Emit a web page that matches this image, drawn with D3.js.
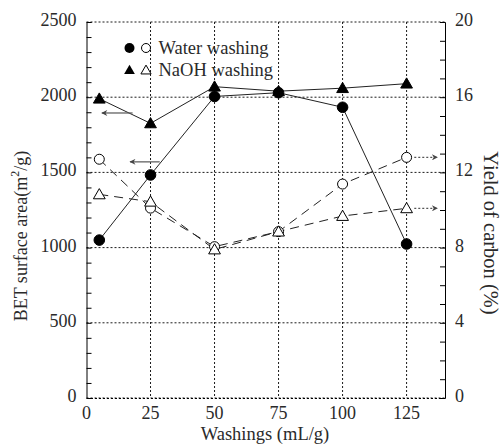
<!DOCTYPE html>
<html><head><meta charset="utf-8">
<script src="https://cdn.jsdelivr.net/npm/d3@7"></script>
<style>body{margin:0;background:#fff}svg{display:block}
svg text{font-family:"Liberation Serif","Times New Roman",Times,serif !important}</style>
</head><body>
<svg id="c" width="503" height="448"></svg>
<script>
const washings = [5, 25, 50, 75, 100, 125];
const bet_water = [1050, 1483, 2005, 2030, 1933, 1024];
const bet_naoh = [1990, 1826, 2070, 2040, 2060, 2090];
const yield_water = [12.7, 10.1, 8.05, 8.85, 11.38, 12.8];
const yield_naoh = [10.83, 10.44, 7.9, 8.85, 9.68, 10.09];
const xTicks = [0, 25, 50, 75, 100, 125];
const yLeftTicks = [0, 500, 1000, 1500, 2000, 2500];
const yRightTicks = [0, 4, 8, 12, 16, 20];
const legendLabels = ["Water washing", "NaOH washing"];

const svg = d3.select("#c");
const L = 86.5, R = 445, T = 22, B = 398;
const x = d3.scaleLinear().domain([0, 140]).range([L, R]);
const yL = d3.scaleLinear().domain([0, 2500]).range([B, T]);
const yR = d3.scaleLinear().domain([0, 20]).range([B, T]);
const font = "Liberation Serif";
const tc = "#2a2a2a";

const defs = svg.append("defs");
defs.append("marker").attr("id","ah").attr("viewBox","0 0 10 10").attr("refX",9).attr("refY",5)
  .attr("markerWidth",9).attr("markerHeight",6).attr("markerUnits","userSpaceOnUse").attr("orient","auto")
  .append("path").attr("d","M0,0 L10,5 L0,10 L3,5 Z").attr("fill","#444");

const grid = svg.append("g").attr("stroke","#000").attr("stroke-width",0.9).attr("stroke-dasharray","2,2");
xTicks.filter(d=>d>0).forEach(d=>grid.append("line").attr("x1",x(d)).attr("x2",x(d)).attr("y1",T).attr("y2",B));
yLeftTicks.forEach(d=>grid.append("line").attr("x1",L).attr("x2",R).attr("y1",yL(d)).attr("y2",yL(d)));

// axes
const axL = svg.append("g").attr("transform",`translate(${L},0)`)
  .call(d3.axisLeft(yL).tickValues(d3.range(0,2501,100)).tickSize(-5).tickFormat(""));
const axR = svg.append("g").attr("transform",`translate(${R},0)`)
  .call(d3.axisRight(yR).tickValues(d3.range(0,21,1)).tickSize(-5).tickFormat(""));
const axB = svg.append("g").attr("transform",`translate(0,${B})`)
  .call(d3.axisBottom(x).tickValues(xTicks).tickSize(0).tickFormat(""));
[axL,axR,axB].forEach(a=>{a.selectAll("path").attr("stroke","#000").attr("stroke-width",1);a.selectAll("line").attr("stroke","#000");});
axB.select("path").attr("stroke-dasharray","2,2");

svg.append("g").selectAll("text").data(xTicks).join("text")
  .attr("x",d=>x(d)).attr("y",419).attr("text-anchor","middle")
  .attr("font-family",font).attr("font-size",18).attr("fill",tc).text(d=>d);
svg.append("g").selectAll("text").data(yLeftTicks).join("text")
  .attr("x",L-10).attr("y",d=>yL(d)+4).attr("text-anchor","end")
  .attr("font-family",font).attr("font-size",18).attr("fill",tc).text(d=>d);
svg.append("g").selectAll("text").data(yRightTicks).join("text")
  .attr("x",R+10).attr("y",d=>yR(d)+4).attr("text-anchor","start")
  .attr("font-family",font).attr("font-size",18).attr("fill",tc).text(d=>d);

// labels
svg.append("text").attr("x",265).attr("y",440).attr("text-anchor","middle")
  .attr("font-family",font).attr("font-size",18.5).attr("fill",tc).text("Washings (mL/g)");
const yl = svg.append("text").attr("transform","translate(27,236) rotate(-90)").attr("text-anchor","middle")
  .attr("font-family",font).attr("font-size",18).attr("fill",tc);
yl.append("tspan").text("BET surface area(m");
yl.append("tspan").attr("dy",-8).attr("font-size",12).text("2");
yl.append("tspan").attr("dy",8).text("/g)");
svg.append("text").attr("transform","translate(484,233) rotate(90)").attr("text-anchor","middle")
  .attr("font-family",font).attr("font-size",20.5).attr("fill",tc).text("Yield of carbon (%)");

// lines
const lineL = d3.line().x((d,i)=>x(washings[i])).y(d=>yL(d));
const lineR = d3.line().x((d,i)=>x(washings[i])).y(d=>yR(d));
svg.append("path").attr("d",lineL(bet_water)).attr("fill","none").attr("stroke","#222").attr("stroke-width",1);
svg.append("path").attr("d",lineL(bet_naoh)).attr("fill","none").attr("stroke","#222").attr("stroke-width",1);
svg.append("path").attr("d",lineR(yield_water)).attr("fill","none").attr("stroke","#222").attr("stroke-width",1).attr("stroke-dasharray","9,6");
svg.append("path").attr("d",lineR(yield_naoh)).attr("fill","none").attr("stroke","#222").attr("stroke-width",1).attr("stroke-dasharray","9,6");

// arrows
const arrows = svg.append("g").attr("stroke","#555").attr("stroke-width",1.2).attr("fill","none");
arrows.append("line").attr("x1",x(18)).attr("x2",x(6)).attr("y1",yL(1895)).attr("y2",yL(1895)).attr("marker-end","url(#ah)");
arrows.append("line").attr("x1",x(28.6)).attr("x2",x(17)).attr("y1",yL(1570)).attr("y2",yL(1570)).attr("marker-end","url(#ah)");
arrows.append("line").attr("x1",x(128)).attr("x2",x(137)).attr("y1",yR(yield_water[5])).attr("y2",yR(yield_water[5])).attr("stroke-dasharray","2,2").attr("marker-end","url(#ah)");
arrows.append("line").attr("x1",x(128)).attr("x2",x(137)).attr("y1",yR(yield_naoh[5])).attr("y2",yR(yield_naoh[5])).attr("stroke-dasharray","2,2").attr("marker-end","url(#ah)");

// markers
const tri = d3.symbol().type(d3.symbolTriangle).size(60);
function circles(data, sc, filled){
  svg.append("g").selectAll("circle").data(data).join("circle")
   .attr("cx",(d,i)=>x(washings[i])).attr("cy",d=>sc(d)).attr("r",filled?5.3:5)
   .attr("fill",filled?"#000":"#fff").attr("stroke","#000").attr("stroke-width",1);
}
function tris(data, sc, filled){
  svg.append("g").selectAll("path").data(data).join("path")
   .attr("transform",(d,i)=>`translate(${x(washings[i])},${sc(d)+1})`).attr("d",tri)
   .attr("fill",filled?"#000":"#fff").attr("stroke","#000").attr("stroke-width",1);
}
circles(yield_water, yR, false);
tris(yield_naoh, yR, false);
circles(bet_water, yL, true);
tris(bet_naoh, yL, true);

// legend
const lg = svg.append("g");
lg.append("circle").attr("cx",129.5).attr("cy",48).attr("r",5).attr("fill","#000");
lg.append("circle").attr("cx",146).attr("cy",48).attr("r",4.5).attr("fill","#fff").attr("stroke","#000");
lg.append("path").attr("transform","translate(129.5,71)").attr("d",d3.symbol().type(d3.symbolTriangle).size(50)).attr("fill","#000");
lg.append("path").attr("transform","translate(146,71)").attr("d",d3.symbol().type(d3.symbolTriangle).size(45)).attr("fill","#fff").attr("stroke","#000");
lg.selectAll("text").data(legendLabels).join("text")
  .attr("x",158.5).attr("y",(d,i)=>53.5+i*22).attr("font-family",font).attr("font-size",18.5).attr("fill",tc).text(d=>d);
</script>
</body></html>
